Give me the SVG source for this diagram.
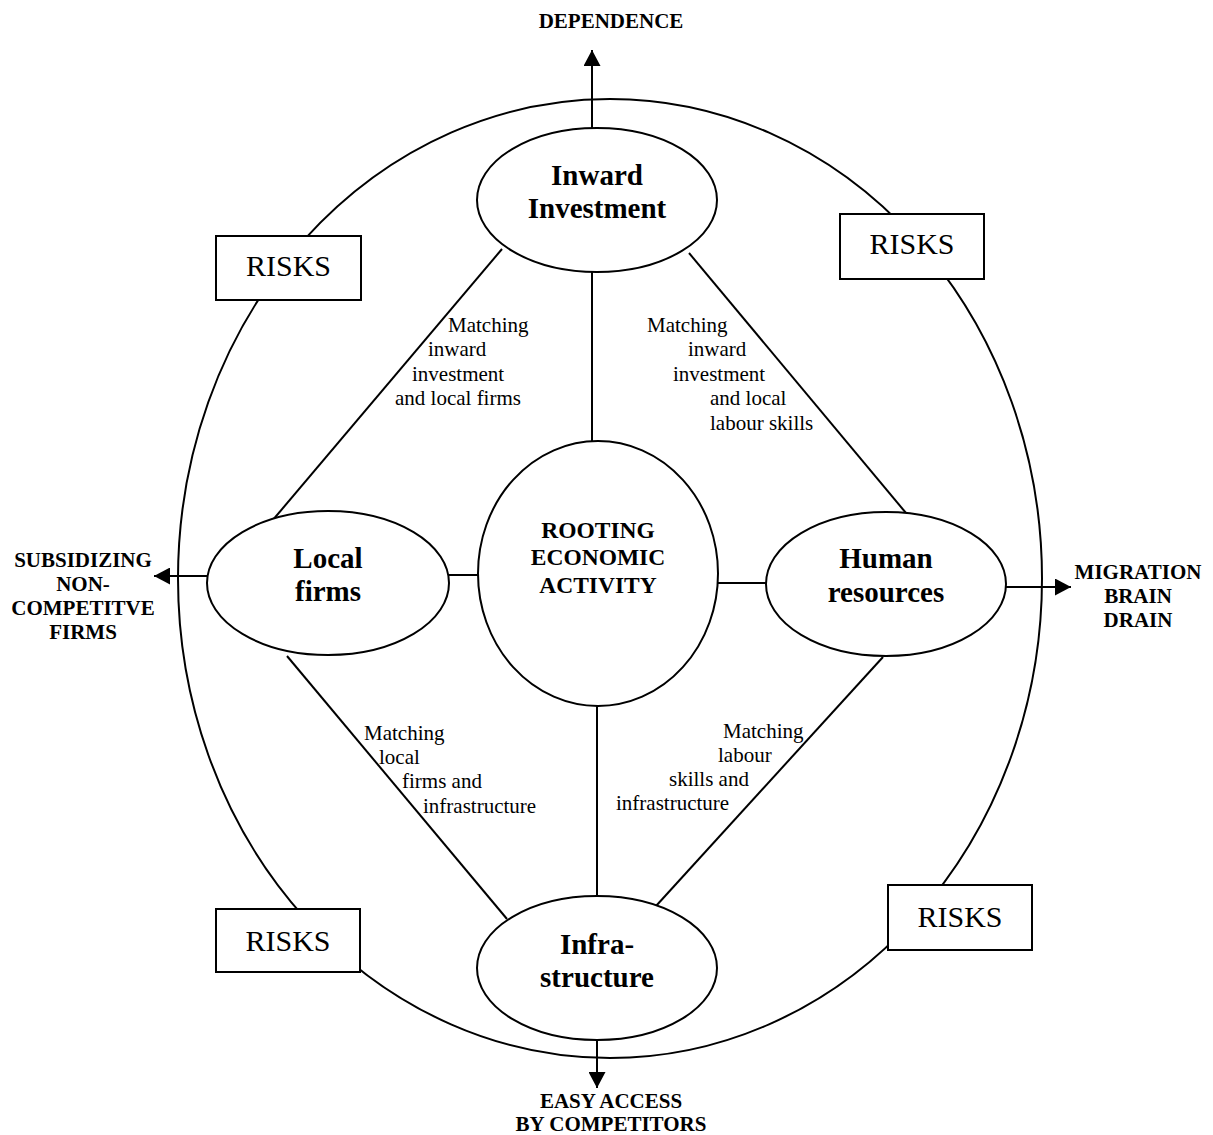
<svg xmlns="http://www.w3.org/2000/svg" width="1213" height="1135" viewBox="0 0 1213 1135">
<style>
.sh{fill:#fff;stroke:#000;stroke-width:2}
.ln{fill:none;stroke:#000;stroke-width:2}
.node{font-family:"Liberation Serif","Times New Roman",serif;font-weight:bold;font-size:29px;text-anchor:middle;fill:#000}
.core{font-family:"Liberation Serif","Times New Roman",serif;font-weight:bold;font-size:23.5px;text-anchor:middle;fill:#000}
.out{font-family:"Liberation Serif","Times New Roman",serif;font-weight:bold;font-size:21px;text-anchor:middle;fill:#000}
.lab{font-family:"Liberation Serif","Times New Roman",serif;font-size:21px;fill:#000}
.risk{font-family:"Liberation Serif","Times New Roman",serif;font-size:30px;text-anchor:middle;fill:#000}
</style>
<defs>
<marker id="arr" viewBox="0 0 16 17" refX="16" refY="8.5" markerWidth="16" markerHeight="17" markerUnits="userSpaceOnUse" orient="auto">
<path d="M0,0 L16,8.5 L0,17 Z" fill="#000"/>
</marker>
</defs>
<rect width="1213" height="1135" fill="#fff"/>
<g id="outer-ring">
<ellipse cx="610" cy="578.5" rx="432" ry="479.5" class="ln"/>
</g>
<g id="connectors">
<line x1="592" y1="272" x2="592" y2="441" class="ln"/>
<line x1="597" y1="706" x2="597" y2="896" class="ln"/>
<line x1="448" y1="575" x2="478" y2="575" class="ln"/>
<line x1="718" y1="583" x2="766" y2="583" class="ln"/>
<line x1="502" y1="249" x2="272" y2="521" class="ln"/>
<line x1="689" y1="253" x2="906" y2="513" class="ln"/>
<line x1="287" y1="656" x2="507" y2="919" class="ln"/>
<line x1="883" y1="657" x2="656" y2="906" class="ln"/>
<line x1="592" y1="128" x2="592" y2="50" class="ln" marker-end="url(#arr)"/>
<line x1="207" y1="576" x2="154" y2="576" class="ln" marker-end="url(#arr)"/>
<line x1="1006" y1="587" x2="1071" y2="587" class="ln" marker-end="url(#arr)"/>
<line x1="597" y1="1041" x2="597" y2="1088" class="ln" marker-end="url(#arr)"/>
</g>
<g id="risk-tl"><rect x="216" y="236" width="145" height="64" class="sh"/><text x="288.5" y="276" class="risk">RISKS</text></g>
<g id="risk-tr"><rect x="840" y="214" width="144" height="65" class="sh"/><text x="912" y="254" class="risk">RISKS</text></g>
<g id="risk-bl"><rect x="216" y="909" width="144" height="63" class="sh"/><text x="288" y="951" class="risk">RISKS</text></g>
<g id="risk-br"><rect x="888" y="885" width="144" height="65" class="sh"/><text x="960" y="927" class="risk">RISKS</text></g>
<g id="inward-investment"><ellipse cx="597" cy="200" rx="120" ry="72" class="sh"/><text x="597" y="185" class="node">Inward</text><text x="597" y="218" class="node">Investment</text></g>
<g id="local-firms"><ellipse cx="328" cy="583" rx="121" ry="72" class="sh"/><text x="328" y="568" class="node">Local</text><text x="328" y="601" class="node">firms</text></g>
<g id="human-resources"><ellipse cx="886" cy="584" rx="120" ry="72" class="sh"/><text x="886" y="568" class="node">Human</text><text x="886" y="602" class="node">resources</text></g>
<g id="infrastructure"><ellipse cx="597" cy="968" rx="120" ry="72" class="sh"/><text x="597" y="954" class="node">Infra-</text><text x="597" y="987" class="node">structure</text></g>
<g id="rooting"><ellipse cx="598" cy="573.5" rx="120" ry="132.5" class="sh"/><text x="598" y="538" class="core">ROOTING</text><text x="598" y="565" class="core">ECONOMIC</text><text x="598" y="593" class="core">ACTIVITY</text></g>
<g id="labels">
<text x="611" y="28" class="out">DEPENDENCE</text>
<text class="out"><tspan x="83" y="567">SUBSIDIZING</tspan><tspan x="83" y="591">NON-</tspan><tspan x="83" y="615">COMPETITVE</tspan><tspan x="83" y="639">FIRMS</tspan></text>
<text class="out"><tspan x="1138" y="579">MIGRATION</tspan><tspan x="1138" y="603">BRAIN</tspan><tspan x="1138" y="627">DRAIN</tspan></text>
<text class="out"><tspan x="611" y="1108">EASY ACCESS</tspan><tspan x="611" y="1131">BY COMPETITORS</tspan></text>
<text class="lab"><tspan x="448" y="332">Matching</tspan><tspan x="428" y="356">inward</tspan><tspan x="412" y="381">investment</tspan><tspan x="395" y="405">and local firms</tspan></text>
<text class="lab"><tspan x="647" y="332">Matching</tspan><tspan x="688" y="356">inward</tspan><tspan x="673" y="381">investment</tspan><tspan x="710" y="405">and local</tspan><tspan x="710" y="430">labour skills</tspan></text>
<text class="lab"><tspan x="364" y="740">Matching</tspan><tspan x="379" y="764">local</tspan><tspan x="402" y="788">firms and</tspan><tspan x="423" y="813">infrastructure</tspan></text>
<text class="lab"><tspan x="723" y="738">Matching</tspan><tspan x="718" y="762">labour</tspan><tspan x="669" y="786">skills and</tspan><tspan x="616" y="810">infrastructure</tspan></text>
</g>
</svg>
